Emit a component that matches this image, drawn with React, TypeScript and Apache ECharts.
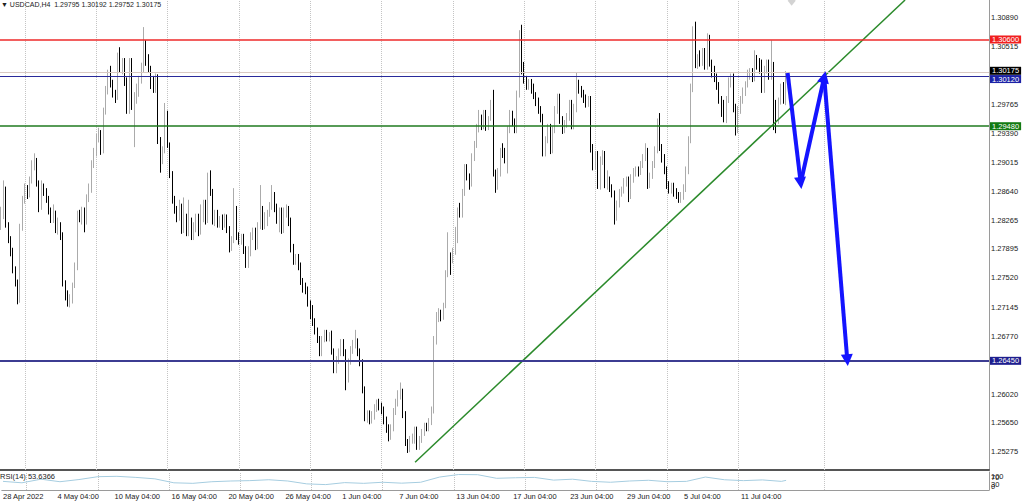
import React, { useEffect, useRef } from "react";
import * as echarts from "echarts";

const FONT = "'Liberation Sans', Arial, sans-serif";
const SYMBOL = "USDCAD,H4";
const TOTAL_SLOTS = 416;

// [open, close, low, high]
const candlesA = [
  [1.2818,1.2831,1.2814,1.2844],[1.2831,1.2866,1.2828,1.2878],[1.2866,1.2821,1.2817,1.2870],[1.2821,1.2801,1.2797,1.2824],
  [1.2801,1.2785,1.2780,1.2806],[1.2785,1.2762,1.2758,1.2791],[1.2762,1.2745,1.2741,1.2767],[1.2745,1.2723,1.2718,1.2750],
  [1.2723,1.2817,1.2720,1.2822],[1.2817,1.2853,1.2813,1.2858],[1.2853,1.2868,1.2848,1.2874],[1.2868,1.2860,1.2854,1.2872],
  [1.2860,1.2878,1.2856,1.2883],[1.2878,1.2898,1.2874,1.2904],[1.2898,1.2901,1.2891,1.2913],[1.2901,1.2874,1.2870,1.2907],
  [1.2874,1.2843,1.2837,1.2878],[1.2843,1.2868,1.2840,1.2878],[1.2868,1.2863,1.2858,1.2874],[1.2863,1.2853,1.2849,1.2868],
  [1.2853,1.2837,1.2834,1.2858],[1.2837,1.2827,1.2823,1.2843],[1.2827,1.2835,1.2823,1.2847],[1.2835,1.2814,1.2810,1.2839],
  [1.2814,1.2819,1.2808,1.2830],[1.2819,1.2808,1.2801,1.2824],[1.2808,1.2745,1.2741,1.2811],[1.2745,1.2728,1.2723,1.2749],
  [1.2728,1.2720,1.2715,1.2736],[1.2720,1.2727,1.2714,1.2731],[1.2727,1.2743,1.2719,1.2746],[1.2743,1.2765,1.2739,1.2772],
  [1.2765,1.2834,1.2762,1.2839],[1.2834,1.2830,1.2824,1.2840],[1.2830,1.2837,1.2821,1.2844],[1.2837,1.2824,1.2811,1.2843],
  [1.2824,1.2856,1.2821,1.2860],[1.2856,1.2866,1.2850,1.2874],[1.2866,1.2898,1.2862,1.2904],[1.2898,1.2914,1.2894,1.2920],
  [1.2914,1.2933,1.2909,1.2938],[1.2933,1.2940,1.2927,1.2946],[1.2940,1.2917,1.2911,1.2943],[1.2917,1.2966,1.2913,1.2972],
  [1.2966,1.2995,1.2963,1.3000],[1.2995,1.3015,1.2989,1.3021],[1.3018,1.3002,1.2998,1.3026],[1.3002,1.2990,1.2985,1.3008],
];
const candlesB = [
  [1.2990,1.2985,1.2978,1.2995],[1.2985,1.3040,1.2982,1.3043],[1.3040,1.3021,1.3017,1.3050],[1.3021,1.3031,1.3015,1.3036],
  [1.3031,1.3005,1.3000,1.3036],[1.3005,1.2969,1.2964,1.3011],[1.2969,1.3031,1.2964,1.3036],[1.3031,1.2976,1.2969,1.3036],
  [1.2976,1.2987,1.2921,1.2992],[1.2987,1.2998,1.2977,1.3003],[1.2998,1.3008,1.2986,1.3013],[1.3008,1.3025,1.3003,1.3030],
  [1.3025,1.3043,1.3018,1.3076],[1.3043,1.3031,1.3026,1.3059],[1.3034,1.3021,1.3017,1.3041],[1.3021,1.3000,1.2996,1.3026],
  [1.3008,1.2995,1.2991,1.3013],[1.2995,1.3011,1.2991,1.3016],[1.3011,1.2930,1.2925,1.3015],[1.2930,1.2904,1.2888,1.2934],
  [1.2904,1.2917,1.2899,1.2922],[1.2917,1.2963,1.2913,1.2978],[1.2963,1.2924,1.2920,1.2968],[1.2924,1.2885,1.2881,1.2927],
  [1.2885,1.2853,1.2848,1.2890],[1.2853,1.2840,1.2835,1.2858],[1.2840,1.2830,1.2824,1.2845],[1.2830,1.2843,1.2826,1.2853],
  [1.2843,1.2814,1.2809,1.2848],[1.2814,1.2830,1.2810,1.2856],[1.2830,1.2810,1.2806,1.2835],[1.2810,1.2824,1.2806,1.2853],
  [1.2824,1.2806,1.2801,1.2830],[1.2806,1.2819,1.2801,1.2824],[1.2819,1.2830,1.2811,1.2835],[1.2830,1.2811,1.2806,1.2835],
  [1.2811,1.2837,1.2808,1.2847],[1.2837,1.2847,1.2824,1.2853],[1.2847,1.2827,1.2821,1.2853],[1.2827,1.2885,1.2823,1.2888],
  [1.2885,1.2862,1.2858,1.2891],[1.2862,1.2824,1.2821,1.2867],[1.2824,1.2835,1.2819,1.2840],[1.2835,1.2822,1.2817,1.2840],
  [1.2822,1.2827,1.2817,1.2832],[1.2827,1.2822,1.2814,1.2834],[1.2822,1.2828,1.2817,1.2835],[1.2828,1.2814,1.2810,1.2834],
];
const candlesC = [
  [1.2814,1.2791,1.2785,1.2819],[1.2791,1.2801,1.2787,1.2806],[1.2801,1.2837,1.2797,1.2868],[1.2840,1.2806,1.2801,1.2845],
  [1.2806,1.2800,1.2795,1.2811],[1.2800,1.2804,1.2795,1.2809],[1.2804,1.2788,1.2783,1.2809],[1.2788,1.2767,1.2765,1.2793],
  [1.2767,1.2788,1.2765,1.2793],[1.2788,1.2806,1.2780,1.2811],[1.2806,1.2811,1.2801,1.2817],[1.2811,1.2793,1.2788,1.2817],
  [1.2793,1.2819,1.2789,1.2824],[1.2819,1.2840,1.2815,1.2872],[1.2840,1.2819,1.2814,1.2845],[1.2819,1.2832,1.2815,1.2837],
  [1.2832,1.2835,1.2819,1.2840],[1.2835,1.2844,1.2831,1.2850],[1.2844,1.2860,1.2840,1.2872],[1.2860,1.2843,1.2837,1.2863],
  [1.2843,1.2827,1.2822,1.2848],[1.2827,1.2837,1.2811,1.2843],[1.2837,1.2814,1.2809,1.2843],[1.2814,1.2837,1.2810,1.2843],
  [1.2837,1.2840,1.2830,1.2847],[1.2840,1.2824,1.2819,1.2845],[1.2824,1.2791,1.2785,1.2830],[1.2791,1.2772,1.2769,1.2796],
  [1.2772,1.2778,1.2769,1.2783],[1.2778,1.2767,1.2762,1.2783],[1.2767,1.2746,1.2743,1.2772],[1.2746,1.2739,1.2733,1.2752],
  [1.2741,1.2736,1.2731,1.2746],[1.2736,1.2719,1.2715,1.2741],[1.2719,1.2703,1.2699,1.2723],[1.2703,1.2694,1.2690,1.2717],
  [1.2694,1.2682,1.2679,1.2700],[1.2682,1.2672,1.2668,1.2688],[1.2672,1.2655,1.2651,1.2677],[1.2655,1.2672,1.2651,1.2677],
  [1.2672,1.2680,1.2669,1.2685],[1.2680,1.2674,1.2670,1.2685],[1.2674,1.2679,1.2670,1.2682],[1.2679,1.2656,1.2653,1.2684],
  [1.2656,1.2633,1.2629,1.2661],[1.2633,1.2646,1.2629,1.2651],[1.2646,1.2656,1.2641,1.2661],[1.2656,1.2668,1.2651,1.2673],
];
const candlesD = [
  [1.2668,1.2655,1.2651,1.2673],[1.2655,1.2623,1.2607,1.2660],[1.2623,1.2643,1.2617,1.2648],[1.2643,1.2659,1.2640,1.2664],
  [1.2659,1.2667,1.2654,1.2672],[1.2667,1.2669,1.2661,1.2685],[1.2669,1.2656,1.2651,1.2674],[1.2656,1.2642,1.2638,1.2661],
  [1.2642,1.2607,1.2603,1.2647],[1.2607,1.2572,1.2567,1.2612],[1.2572,1.2576,1.2565,1.2581],[1.2576,1.2568,1.2563,1.2581],
  [1.2568,1.2575,1.2564,1.2580],[1.2575,1.2584,1.2569,1.2589],[1.2584,1.2590,1.2579,1.2595],[1.2590,1.2586,1.2581,1.2596],
  [1.2586,1.2581,1.2576,1.2591],[1.2581,1.2568,1.2563,1.2586],[1.2568,1.2558,1.2552,1.2573],[1.2558,1.2546,1.2541,1.2563],
  [1.2546,1.2558,1.2543,1.2563],[1.2558,1.2579,1.2554,1.2584],[1.2579,1.2591,1.2575,1.2596],[1.2591,1.2601,1.2586,1.2607],
  [1.2601,1.2607,1.2595,1.2617],[1.2604,1.2575,1.2571,1.2609],[1.2575,1.2539,1.2535,1.2580],[1.2539,1.2530,1.2526,1.2544],
  [1.2530,1.2543,1.2527,1.2548],[1.2543,1.2546,1.2538,1.2551],[1.2543,1.2555,1.2538,1.2560],[1.2555,1.2534,1.2530,1.2560],
  [1.2534,1.2543,1.2530,1.2548],[1.2543,1.2551,1.2539,1.2557],[1.2551,1.2560,1.2548,1.2565],[1.2560,1.2558,1.2554,1.2565],
  [1.2558,1.2565,1.2554,1.2571],[1.2565,1.2581,1.2562,1.2586],[1.2581,1.2672,1.2577,1.2677],[1.2672,1.2700,1.2666,1.2708],
  [1.2700,1.2705,1.2695,1.2713],[1.2705,1.2700,1.2696,1.2711],[1.2700,1.2715,1.2698,1.2720],[1.2715,1.2756,1.2713,1.2762],
  [1.2756,1.2778,1.2753,1.2811],[1.2778,1.2775,1.2756,1.2785],[1.2775,1.2785,1.2771,1.2791],[1.2785,1.2801,1.2782,1.2818],
];
const candlesE = [
  [1.2801,1.2837,1.2797,1.2843],[1.2844,1.2834,1.2830,1.2849],[1.2834,1.2862,1.2830,1.2867],[1.2862,1.2894,1.2858,1.2899],
  [1.2894,1.2882,1.2878,1.2899],[1.2882,1.2875,1.2866,1.2887],[1.2875,1.2907,1.2870,1.2913],[1.2907,1.2924,1.2903,1.2929],
  [1.2924,1.2946,1.2920,1.2951],[1.2946,1.2953,1.2940,1.2969],[1.2956,1.2948,1.2943,1.2963],[1.2948,1.2964,1.2944,1.2969],
  [1.2964,1.2947,1.2942,1.2969],[1.2947,1.2958,1.2943,1.2961],[1.2958,1.2973,1.2955,1.2982],[1.2973,1.2887,1.2883,1.2995],
  [1.2887,1.2869,1.2862,1.2892],[1.2869,1.2888,1.2866,1.2894],[1.2888,1.2914,1.2883,1.2920],[1.2914,1.2911,1.2907,1.2926],
  [1.2911,1.2904,1.2900,1.2920],[1.2904,1.2943,1.2887,1.2948],[1.2943,1.2963,1.2939,1.2969],[1.2963,1.2953,1.2948,1.2968],
  [1.2953,1.2943,1.2939,1.2958],[1.2943,1.2989,1.2939,1.2994],[1.2989,1.3046,1.2985,1.3072],[1.3046,1.3018,1.3015,1.3079],
  [1.3018,1.3008,1.3003,1.3031],[1.3008,1.3000,1.2995,1.3013],[1.3000,1.3004,1.2995,1.3009],[1.3004,1.2994,1.2990,1.3009],
  [1.2998,1.2987,1.2983,1.3003],[1.2987,1.2979,1.2974,1.2992],[1.2979,1.2969,1.2964,1.2985],[1.2969,1.2958,1.2953,1.2974],
  [1.2958,1.2913,1.2909,1.2964],[1.2913,1.2930,1.2909,1.2935],[1.2930,1.2946,1.2926,1.2951],[1.2946,1.2917,1.2912,1.2951],
  [1.2917,1.2943,1.2913,1.2948],[1.2943,1.2969,1.2939,1.2974],[1.2969,1.2985,1.2964,1.2990],[1.2985,1.2956,1.2951,1.2990],
  [1.2956,1.2943,1.2938,1.2961],[1.2943,1.2951,1.2939,1.2956],[1.2951,1.2960,1.2946,1.2965],[1.2960,1.2977,1.2955,1.2982],
];
const candlesF = [
  [1.2977,1.2948,1.2944,1.2982],[1.2948,1.2972,1.2944,1.2977],[1.2972,1.3003,1.2966,1.3017],[1.3003,1.2995,1.2990,1.3008],
  [1.2995,1.2990,1.2985,1.3000],[1.2990,1.2983,1.2978,1.2995],[1.2983,1.2977,1.2972,1.2989],[1.2977,1.2982,1.2973,1.2987],
  [1.2982,1.2920,1.2914,1.2987],[1.2920,1.2898,1.2891,1.2925],[1.2898,1.2911,1.2892,1.2916],[1.2911,1.2872,1.2867,1.2916],
  [1.2872,1.2904,1.2866,1.2909],[1.2904,1.2911,1.2898,1.2917],[1.2911,1.2872,1.2868,1.2916],[1.2872,1.2878,1.2866,1.2891],
  [1.2878,1.2868,1.2863,1.2883],[1.2868,1.2860,1.2856,1.2873],[1.2860,1.2830,1.2821,1.2865],[1.2830,1.2847,1.2826,1.2852],
  [1.2847,1.2862,1.2843,1.2867],[1.2862,1.2866,1.2857,1.2870],[1.2866,1.2875,1.2861,1.2881],[1.2875,1.2878,1.2870,1.2883],
  [1.2878,1.2858,1.2850,1.2883],[1.2858,1.2881,1.2854,1.2886],[1.2881,1.2888,1.2875,1.2894],[1.2888,1.2891,1.2883,1.2896],
  [1.2891,1.2888,1.2883,1.2896],[1.2888,1.2898,1.2885,1.2903],[1.2898,1.2907,1.2894,1.2912],[1.2907,1.2914,1.2903,1.2926],
  [1.2914,1.2872,1.2867,1.2920],[1.2872,1.2883,1.2868,1.2888],[1.2883,1.2898,1.2880,1.2903],[1.2898,1.2917,1.2894,1.2922],
  [1.2917,1.2952,1.2913,1.2958],[1.2952,1.2920,1.2916,1.2965],[1.2920,1.2907,1.2901,1.2925],[1.2907,1.2891,1.2886,1.2912],
  [1.2891,1.2872,1.2867,1.2896],[1.2872,1.2866,1.2861,1.2877],[1.2866,1.2870,1.2861,1.2875],[1.2870,1.2861,1.2857,1.2875],
  [1.2863,1.2858,1.2854,1.2868],[1.2858,1.2852,1.2849,1.2863],[1.2852,1.2858,1.2849,1.2863],[1.2858,1.2868,1.2853,1.2873],
];
const candlesG = [
  [1.2868,1.2891,1.2863,1.2896],[1.2891,1.2930,1.2886,1.2935],[1.2930,1.2998,1.2926,1.3003],[1.2998,1.3072,1.2992,1.3077],
  [1.3072,1.3027,1.3023,1.3083],[1.3027,1.3036,1.3022,1.3041],[1.3039,1.3030,1.3025,1.3046],[1.3030,1.3043,1.3026,1.3049],
  [1.3043,1.3026,1.3021,1.3049],[1.3026,1.3062,1.3021,1.3068],[1.3062,1.3028,1.3025,1.3066],[1.3028,1.3016,1.3011,1.3034],
  [1.3021,1.3011,1.3005,1.3026],[1.3011,1.3000,1.2995,1.3016],[1.3000,1.2982,1.2977,1.3005],[1.2982,1.2965,1.2960,1.2987],
  [1.2976,1.2956,1.2953,1.2982],[1.2956,1.2982,1.2952,1.2987],[1.2982,1.3005,1.2978,1.3011],[1.3002,1.3011,1.2998,1.3016],
  [1.3011,1.2972,1.2966,1.3016],[1.2972,1.2940,1.2936,1.2977],[1.2943,1.2969,1.2939,1.2974],[1.2969,1.2982,1.2964,1.2987],
  [1.2982,1.2992,1.2977,1.2998],[1.2992,1.3002,1.2987,1.3006],[1.3002,1.3015,1.2998,1.3021],[1.3015,1.3018,1.3008,1.3023],
  [1.3018,1.3011,1.3005,1.3023],[1.3011,1.3031,1.3006,1.3046],[1.3034,1.3026,1.3021,1.3040],[1.3031,1.3021,1.3016,1.3036],
  [1.3029,1.2995,1.2991,1.3034],[1.2995,1.3021,1.2991,1.3026],[1.3021,1.3029,1.3016,1.3034],[1.3029,1.3013,1.3008,1.3034],
  [1.3013,1.3026,1.3008,1.3059],[1.3026,1.2958,1.2943,1.3031],[1.2969,1.2953,1.2939,1.2982],[1.2956,1.2979,1.2951,1.2985],
  [1.2979,1.2998,1.2976,1.3003],[1.3000,1.2982,1.2977,1.3005],[1.29795,1.30175,1.29752,1.30192],
];

// RSI(14), one reading every 8 bars, plus the latest value
const rsiStep = 8;
const rsiValues = [48,40,60,46,58,74,76,70,62,40,37,46,50,52,57,50,34,30,41,37,43,38,43,72,86,85,65,68,70,55,60,48,43,50,54,46,48,72,57,52,56,48];
const rsiLast = 53.6366;
const rsiLastBar = 330;

// axis ticks (1.30140 and 1.26395 are hidden behind level boxes in the source)
const priceTicks = ["1.30890","1.30515","1.29765","1.29390","1.29015","1.28640","1.28265","1.27895","1.27520","1.27145","1.26770","1.26020","1.25650","1.25275"];
const rsiTicks = ["100","70","30","0"];
const timeLabelBars = [0,23,47,71,95,119,143,167,191,215,239,263,287,311];
const timeLabels = ["28 Apr 2022","4 May 04:00","10 May 04:00","16 May 04:00","20 May 04:00","26 May 04:00","1 Jun 04:00","7 Jun 04:00","13 Jun 04:00","17 Jun 04:00","23 Jun 04:00","29 Jun 04:00","5 Jul 04:00","11 Jul 04:00"];
const gridBars = [10,40,70,100,130,160,190,220,250,280,310,346];

// horizontal levels
const levelPrices = [1.30600, 1.30175, 1.30120, 1.29480, 1.26450];
const levelLabels = ["1.30600","1.30175","1.30120","1.29480","1.26450"];

// trend line and forecast path (bar index, price)
const trendBars = [174.1, 380.2];
const trendPrices = [1.2514, 1.3111];
const arrowBars = [330.8, 336.3, 346.2, 355.9];
const arrowPrices = [1.30167, 1.28746, 1.30115, 1.26459];
const markerBar = 332.5;
const markerPrice = 1.3110;

const Y_MIN = 1.2504;
const Y_MAX = 1.3111;

const levelStyles = [
  { line: "#ee2a2a", width: 1.5, box: "#f01f1f", shift: 0 },
  { line: "#d9c9c2", width: 1, box: "#000000", shift: -1.6 },
  { line: "#2a2a9a", width: 1.2, box: "#1c22a6", shift: 2.4 },
  { line: "#1f7a1f", width: 1.5, box: "#137a13", shift: 0 },
  { line: "#3c3c92", width: 2, box: "#1e1e8e", shift: 0 },
];

const fmt = (v: number) => v.toFixed(5);
const CLEAR = "rgba(0,0,0,0)";

function buildOption() {
  const candles = [...candlesA, ...candlesB, ...candlesC, ...candlesD, ...candlesE, ...candlesF, ...candlesG];
  const last = candles[candles.length - 1];
  const cats = Array.from({ length: TOTAL_SLOTS }, (_, i) => String(i));
  const rsiData = rsiValues.map((v, k) => [k * rsiStep, v]);
  rsiData.push([rsiLastBar, rsiLast]);

  const labelText = { fontFamily: FONT, fontSize: 7.5, color: "#222" };

  const gridLineItems = gridBars.map((b) => ({
    xAxis: b,
    lineStyle: { type: "dotted", color: "#c4c4c4", width: 1 },
    label: { show: false },
  }));

  const tickItems = priceTicks.map((t) => ({
    yAxis: parseFloat(t),
    lineStyle: { color: CLEAR, width: 1, opacity: 1 },
    label: { show: true, position: "end", distance: 2, formatter: t, ...labelText },
  }));

  const levelItems = levelPrices.map((p, k) => ({
    yAxis: p,
    lineStyle: { color: levelStyles[k].line, width: levelStyles[k].width, type: "solid", opacity: 1 },
    label: {
      show: true,
      position: "end",
      distance: 1,
      offset: [0, levelStyles[k].shift],
      formatter: levelLabels[k],
      fontFamily: FONT,
      fontSize: 7.5,
      color: "#ffffff",
      backgroundColor: levelStyles[k].box,
      padding: [1, 2, 0, 2],
      lineHeight: 7,
    },
  }));

  const rsiTickItems = rsiTicks.map((t) => {
    const v = parseFloat(t);
    return {
      yAxis: v,
      lineStyle: { color: CLEAR, width: 1, opacity: 1 },
      label: {
        show: true,
        position: "end",
        distance: 2,
        formatter: t,
        verticalAlign: v === 100 ? "top" : v === 0 ? "bottom" : "middle",
        ...labelText,
      },
    };
  });

  const arrowLegs = [] as any[];
  for (let k = 0; k < arrowBars.length - 1; k++) {
    arrowLegs.push({
      coords: [
        [arrowBars[k], arrowPrices[k]],
        [arrowBars[k + 1], arrowPrices[k + 1]],
      ],
    });
  }

  return {
    animation: false,
    backgroundColor: "#ffffff",
    textStyle: { fontFamily: FONT },
    title: [
      {
        text: `▼ ${SYMBOL}  ${fmt(last[0])} ${fmt(last[3])} ${fmt(last[2])} ${fmt(last[1])}`,
        left: 1,
        top: 1,
        padding: 0,
        textStyle: { fontFamily: FONT, fontSize: 7, fontWeight: "normal", color: "#222" },
      },
      {
        text: `RSI(14) ${rsiLast}`,
        left: 0,
        top: 472,
        padding: 0,
        textStyle: { fontFamily: FONT, fontSize: 7.5, fontWeight: "normal", color: "#222" },
      },
    ],
    grid: [
      { left: 0, top: 0, width: 989, height: 470 },
      { left: 0, top: 472, width: 989, height: 18 },
    ],
    xAxis: [
      {
        type: "category",
        gridIndex: 0,
        data: cats,
        boundaryGap: true,
        axisLine: { show: true, onZero: false, lineStyle: { color: "#555", width: 2 } },
        axisTick: { show: false },
        axisLabel: { show: false },
        splitLine: { show: false },
      },
      { type: "value", gridIndex: 0, min: -0.5, max: TOTAL_SLOTS - 0.5, show: false },
      {
        type: "category",
        gridIndex: 1,
        data: cats,
        boundaryGap: true,
        axisLine: { show: true, onZero: false, lineStyle: { color: "#9a9a9a", width: 1 } },
        axisTick: { show: false },
        splitLine: { show: false },
        axisLabel: {
          show: true,
          interval: (idx: number) => timeLabelBars.indexOf(idx) >= 0,
          formatter: (val: string) => {
            const k = timeLabelBars.indexOf(Number(val));
            return k >= 0 ? timeLabels[k] : "";
          },
          align: "left",
          margin: 2,
          fontFamily: FONT,
          fontSize: 7.5,
          color: "#222",
        },
      },
      { type: "value", gridIndex: 1, min: -0.5, max: TOTAL_SLOTS - 0.5, show: false },
    ],
    yAxis: [
      {
        type: "value",
        gridIndex: 0,
        position: "right",
        min: Y_MIN,
        max: Y_MAX,
        axisLine: { show: true, onZero: false, lineStyle: { color: "#9a9a9a", width: 1 } },
        axisTick: { show: false },
        axisLabel: { show: false },
        splitLine: { show: false },
      },
      {
        type: "value",
        gridIndex: 1,
        position: "right",
        min: 0,
        max: 100,
        axisLine: { show: true, onZero: false, lineStyle: { color: "#9a9a9a", width: 1 } },
        axisTick: { show: false },
        axisLabel: { show: false },
        splitLine: { show: false },
      },
    ],
    series: [
      {
        name: "grid-main",
        type: "line",
        xAxisIndex: 1,
        yAxisIndex: 0,
        data: [],
        silent: true,
        z: 1,
        markLine: { silent: true, z: 1, precision: 5, symbol: ["none", "none"], data: gridLineItems },
      },
      {
        name: "grid-rsi",
        type: "line",
        xAxisIndex: 3,
        yAxisIndex: 1,
        data: [],
        silent: true,
        z: 1,
        markLine: { silent: true, z: 1, precision: 5, symbol: ["none", "none"], data: gridLineItems },
      },
      {
        name: SYMBOL,
        type: "candlestick",
        xAxisIndex: 0,
        yAxisIndex: 0,
        data: candles,
        barWidth: 1.3,
        z: 2,
        itemStyle: {
          color: "#d2d2d2",
          color0: "#000000",
          borderColor: "#ababab",
          borderColor0: "#000000",
          borderWidth: 1,
        },
      },
      {
        name: "trend",
        type: "line",
        xAxisIndex: 1,
        yAxisIndex: 0,
        data: trendBars.map((b, k) => [b, trendPrices[k]]),
        showSymbol: false,
        symbol: "none",
        silent: true,
        z: 3,
        lineStyle: { color: "#2b8a2b", width: 1.5 },
        markLine: {
          silent: true,
          precision: 5,
          symbol: ["none", "none"],
          data: [...tickItems, ...levelItems],
        },
      },
      {
        name: "forecast",
        type: "lines",
        coordinateSystem: "cartesian2d",
        xAxisIndex: 1,
        yAxisIndex: 0,
        silent: true,
        z: 6,
        symbol: ["none", "triangle"],
        symbolSize: [11, 12],
        lineStyle: { color: "#1414ff", width: 4, opacity: 1, curveness: 0 },
        data: arrowLegs,
      },
      {
        name: "marker",
        type: "scatter",
        xAxisIndex: 1,
        yAxisIndex: 0,
        silent: true,
        symbol: "diamond",
        symbolSize: [8, 10],
        itemStyle: { color: "#c8c8c8" },
        data: [[markerBar, markerPrice]],
      },
      {
        name: "RSI(14)",
        type: "line",
        xAxisIndex: 3,
        yAxisIndex: 1,
        data: rsiData,
        showSymbol: false,
        symbol: "none",
        silent: true,
        lineStyle: { color: "#a6cde0", width: 1 },
        markLine: { silent: true, precision: 5, symbol: ["none", "none"], data: rsiTickItems },
      },
    ],
  };
}

export default function App() {
  const ref = useRef<HTMLDivElement>(null);
  useEffect(() => {
    if (!ref.current) return;
    const chart = echarts.init(ref.current, undefined, { renderer: "svg" });
    chart.setOption(buildOption() as any);
    return () => chart.dispose();
  }, []);
  return (
    <div
      ref={ref}
      style={{ position: "absolute", left: 0, top: 0, width: 1024, height: 501, background: "#ffffff" }}
    />
  );
}
